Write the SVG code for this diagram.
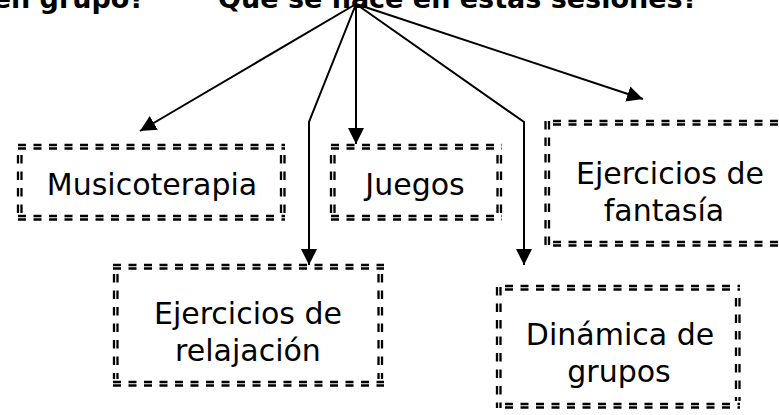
<svg xmlns="http://www.w3.org/2000/svg" width="779" height="415" viewBox="0 0 779 415">
<style>
.t{font-family:"DejaVu Sans",Verdana,sans-serif;font-size:30px;fill:#000;text-anchor:middle}
.h{font-family:"DejaVu Sans",Verdana,sans-serif;font-size:27px;font-weight:bold;fill:#000}
.hd{stroke:#000;stroke-width:2.3;fill:none;stroke-dasharray:8 7.5}
.vd{stroke:#000;stroke-width:2.3;fill:none;stroke-dasharray:8.5 8}
.c{stroke:#000;stroke-width:2;fill:none;marker-end:url(#ah)}
</style>
<defs>
<marker id="ah" markerUnits="userSpaceOnUse" markerWidth="16" markerHeight="16" refX="16" refY="8" orient="auto">
<path d="M0,0 L16,8 L0,16 Z" fill="#000"/>
</marker>
</defs>
<rect width="779" height="415" fill="#fff"/>
<g id="title">
<text class="h" x="145" y="8" text-anchor="end">en grupo?</text>
<text class="h" x="218" y="8">Qué se hace en estas sesiones?</text>
</g>
<g id="connectors">
<path class="c" d="M356,4 L140,131"/>
<path class="c" d="M356,4 L309,122 L309,265"/>
<path class="c" d="M356,4 L356,144"/>
<path class="c" d="M356,4 L524,122 L524,265"/>
<path class="c" d="M356,4 L643,99"/>
</g>
<g id="musicoterapia">
<path class="hd" d="M18,145 H285 M18,148.5 H285 M18,216 H285 M18,219.5 H285"/>
<path class="vd" d="M18,155 V213 M21.5,155 V213 M281,155 V213 M284.5,155 V213"/>
<text class="t" x="152" y="195">Musicoterapia</text>
</g>
<g id="juegos">
<path class="hd" d="M331,145 H502 M331,148.5 H502 M331,216 H502 M331,219.5 H502"/>
<path class="vd" d="M331,155 V213 M334.5,155 V213 M497.5,155 V213 M501,155 V213"/>
<text class="t" x="415" y="195">Juegos</text>
</g>
<g id="fantasia">
<path class="hd" d="M553,121 H779 M553,124.5 H779 M553,242 H779 M553,245.5 H779"/>
<path class="vd" d="M545.5,121 V246 M549,121 V246"/>
<text class="t" x="670" y="184">Ejercicios de</text>
<text class="t" x="664" y="221">fantasía</text>
</g>
<g id="relajacion">
<path class="hd" d="M113,265 H384 M113,268.5 H384 M113,382 H384 M113,385.5 H384"/>
<path class="vd" d="M114,274 V379 M117.5,274 V379 M378.5,274 V379 M382,274 V379"/>
<text class="t" x="248" y="324">Ejercicios de</text>
<text class="t" x="248" y="361">relajación</text>
</g>
<g id="dinamica">
<path class="hd" d="M505,286 H740 M505,289.5 H740 M505,404 H740 M505,407.5 H740"/>
<path class="vd" d="M497,287 V408 M500.5,287 V408 M736,298 V401 M739.5,298 V401"/>
<text class="t" x="620" y="345">Dinámica de</text>
<text class="t" x="619" y="382">grupos</text>
</g>
</svg>
